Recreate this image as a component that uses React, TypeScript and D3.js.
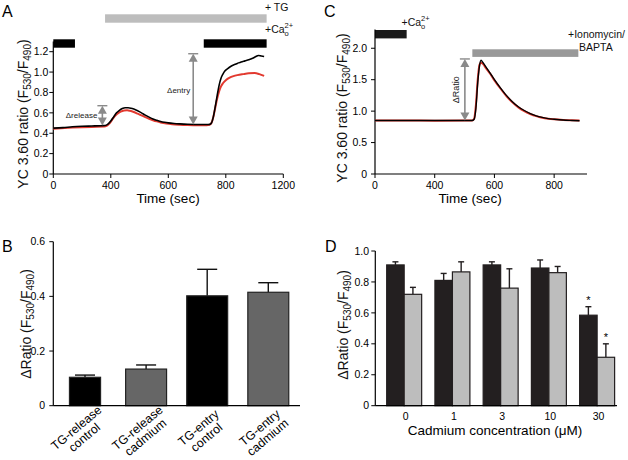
import React from 'react';
import * as d3 from 'd3';

const FONT = '"Liberation Sans", Arial, Helvetica, sans-serif';

// ---------------- Panel A data ----------------
const aTimeBlack = [0, 50, 100, 150, 200, 250, 270, 285, 300, 315, 330, 345, 360, 375, 390, 405, 420, 440, 460, 480, 500, 520, 540, 560, 580, 600, 630, 660, 700, 750, 800, 815, 825, 835, 845, 855, 865, 875, 885, 895, 910, 925, 940, 960, 980, 1000, 1020, 1040, 1055, 1070, 1085, 1100];
const aBlack = [0.45, 0.455, 0.463, 0.468, 0.471, 0.474, 0.476, 0.49, 0.52, 0.56, 0.6, 0.625, 0.642, 0.65, 0.65, 0.646, 0.637, 0.62, 0.6, 0.578, 0.558, 0.54, 0.527, 0.516, 0.508, 0.502, 0.496, 0.492, 0.488, 0.486, 0.485, 0.487, 0.5, 0.56, 0.66, 0.77, 0.87, 0.94, 0.98, 1.01, 1.035, 1.055, 1.07, 1.085, 1.1, 1.11, 1.12, 1.135, 1.15, 1.163, 1.158, 1.153];
const aTimeRed = [0, 100, 200, 265, 280, 295, 310, 325, 340, 355, 370, 385, 400, 420, 440, 460, 480, 500, 520, 540, 560, 590, 620, 660, 700, 750, 800, 815, 825, 835, 845, 855, 865, 875, 885, 900, 920, 940, 960, 990, 1020, 1050, 1075, 1100];
const aRed = [0.445, 0.455, 0.462, 0.465, 0.475, 0.5, 0.54, 0.575, 0.6, 0.615, 0.624, 0.625, 0.62, 0.608, 0.592, 0.575, 0.558, 0.542, 0.528, 0.516, 0.506, 0.495, 0.488, 0.483, 0.48, 0.478, 0.478, 0.482, 0.5, 0.56, 0.65, 0.74, 0.81, 0.86, 0.89, 0.92, 0.945, 0.96, 0.97, 0.98, 0.988, 0.99, 0.98, 0.962];
const aXTickValues = [0, 300, 600, 900, 1200];
const aXTickLabels = ['0', '400', '600', '800', '1200'];
const aYTickValues = [0, 0.2, 0.4, 0.6, 0.8, 1.0, 1.2];
const aYTickLabels = ['0', '0.2', '0.4', '0.6', '0.8', '1.0', '1.2'];
const aCaBars = [[0, 113], [785, 1113]];
const aTgBar = [270, 1113];
const aReleaseArrow = { t: 256, from: 0.475, to: 0.67, label: 'Δrelease' };
const aEntryArrow = { t: 730, from: 0.485, to: 1.18, label: 'Δentry' };

// ---------------- Panel C data ----------------
const cTime = [0, 100, 200, 300, 325, 332, 338, 344, 350, 355, 362, 372, 385, 400, 420, 440, 460, 480, 500, 520, 540, 560, 580, 600, 630, 660, 685];
const cBlack = [0.85, 0.85, 0.85, 0.85, 0.85, 0.87, 1.05, 1.45, 1.72, 1.81, 1.77, 1.7, 1.61, 1.5, 1.37, 1.25, 1.15, 1.07, 1.01, 0.96, 0.925, 0.9, 0.88, 0.87, 0.858, 0.852, 0.848];
const cRed = [0.85, 0.852, 0.848, 0.85, 0.852, 0.88, 1.1, 1.5, 1.74, 1.77, 1.75, 1.68, 1.6, 1.49, 1.36, 1.24, 1.14, 1.06, 1.0, 0.955, 0.92, 0.895, 0.88, 0.87, 0.86, 0.855, 0.85];
const cXTickValues = [0, 200, 400, 600];
const cXTickLabels = ['0', '400', '600', '800'];
const cYTickValues = [0, 0.5, 1.0, 1.5, 2.0];
const cYTickLabels = ['0', '0.5', '1.0', '1.5', '2.0'];
const cCaBar = [0, 106];
const cIonoBar = [326, 681];
const cRatioArrow = { t: 301, from: 0.85, to: 1.83, label: 'ΔRatio' };

// ---------------- Panel B data ----------------
const bCategories = ['TG-release control', 'TG-release cadmium', 'TG-entry control', 'TG-entry cadmium'];
const bLabelLines = [['TG-release', 'control'], ['TG-release', 'cadmium'], ['TG-entry', 'control'], ['TG-entry', 'cadmium']];
const bValues = [0.104, 0.134, 0.402, 0.415];
const bErrors = [0.008, 0.015, 0.097, 0.035];
const bYTickValues = [0, 0.2, 0.4, 0.6];
const bYTickLabels = ['0', '0.2', '0.4', '0.6'];

// ---------------- Panel D data ----------------
const dConcentrations = ['0', '1', '3', '10', '30'];
const dSeries = ['black', 'gray'];
const dBlack = [0.91, 0.81, 0.91, 0.89, 0.585];
const dBlackErr = [0.02, 0.045, 0.02, 0.052, 0.055];
const dGray = [0.72, 0.865, 0.76, 0.86, 0.313];
const dGrayErr = [0.045, 0.065, 0.125, 0.04, 0.087];
const dBlackSig = [false, false, false, false, true];
const dGraySig = [false, false, false, false, true];
const dYTickValues = [0, 0.2, 0.4, 0.6, 0.8, 1.0];
const dYTickLabels = ['0', '0.2', '0.4', '0.6', '0.8', '1.0'];

// ---------------- styles ----------------
const bBarColors = ['#000000', '#666666', '#000000', '#666666'];
const bBarWidthFrac = [0.76, 1, 1, 1];
const dColors: Record<string, string> = { black: '#231f20', gray: '#bdbdbd' };
const ARROW = '#8a8a8a';

function VArrow({ x, y1, y2 }: { x: number; y1: number; y2: number }) {
  const hw = 4.5, hl = 8;
  return (
    <g>
      <line x1={x} x2={x} y1={y1 + hl - 1} y2={y2 - hl + 1} stroke={ARROW} strokeWidth={1.6} />
      <polygon points={`${x},${y1} ${x - hw},${y1 + hl} ${x + hw},${y1 + hl}`} fill={ARROW} />
      <polygon points={`${x},${y2} ${x - hw},${y2 - hl} ${x + hw},${y2 - hl}`} fill={ARROW} />
      <line x1={x - 5} x2={x + 5} y1={y1} y2={y1} stroke={ARROW} strokeWidth={1.4} />
    </g>
  );
}

function CaLabel({ x, y }: { x: number; y: number }) {
  return (
    <text x={x} y={y} fontSize={10.5} fontFamily={FONT} fill="#111">
      +Ca<tspan fontSize={7.5} dy={3}>o</tspan>
      <tspan fontSize={7.5} dx={-4.2} dy={-8}>2+</tspan>
    </text>
  );
}

function YLabel({ x, y, prefix }: { x: number; y: number; prefix: string }) {
  return (
    <text transform={`translate(${x},${y}) rotate(-90)`} textAnchor="middle" fontSize={14} fontFamily={FONT} fill="#111">
      {prefix}(F<tspan fontSize={10} dy={3}>530</tspan>
      <tspan dy={-3}>/F</tspan>
      <tspan fontSize={10} dy={3}>490</tspan>
      <tspan dy={-3}>)</tspan>
    </text>
  );
}

function PanelA() {
  const x = d3.scaleLinear().domain([0, 1200]).range([53.3, 283.3]);
  const y = d3.scaleLinear().domain([0, 1.3]).range([174, 41.5]);
  const line = d3.line<[number, number]>().x(d => x(d[0])).y(d => y(d[1])).curve(d3.curveMonotoneX);
  const blackPts = aTimeBlack.map((t, i) => [t, aBlack[i]] as [number, number]);
  const redPts = aTimeRed.map((t, i) => [t, aRed[i]] as [number, number]);
  return (
    <g>
      <text x={2} y={17} fontSize={16} fontFamily={FONT}>A</text>
      <rect x={x(aTgBar[0])} y={14.3} width={x(aTgBar[1]) - x(aTgBar[0])} height={8.4} fill="#bdbdbd" />
      <text x={265} y={10.5} fontSize={10.5} fontFamily={FONT} fill="#111">+ TG</text>
      <CaLabel x={265} y={33} />
      {aCaBars.map((b, i) => (
        <rect key={i} x={x(b[0])} y={39.3} width={x(b[1]) - x(b[0])} height={8.4} fill="#000" />
      ))}
      <line x1={x(0)} x2={x(0)} y1={y(1.3)} y2={y(0)} stroke="#000" strokeWidth={1.2} />
      <line x1={x(0)} x2={x(1200)} y1={y(0)} y2={y(0)} stroke="#000" strokeWidth={1.2} />
      {aYTickValues.map((v, i) => (
        <g key={i}>
          <line x1={x(0) - 4} x2={x(0)} y1={y(v)} y2={y(v)} stroke="#000" strokeWidth={1} />
          <text x={x(0) - 5} y={y(v)} dy="0.35em" textAnchor="end" fontSize={10.5} fontFamily={FONT}>{aYTickLabels[i]}</text>
        </g>
      ))}
      {aXTickValues.map((v, i) => (
        <g key={i}>
          <line x1={x(v)} x2={x(v)} y1={y(0)} y2={y(0) + 4} stroke="#000" strokeWidth={1} />
          <text x={x(v)} y={189} textAnchor="middle" fontSize={10.5} fontFamily={FONT}>{aXTickLabels[i]}</text>
        </g>
      ))}
      <text x={168} y={203} textAnchor="middle" fontSize={13.5} fontFamily={FONT}>Time (sec)</text>
      <YLabel x={28} y={114} prefix="YC 3.60 ratio " />
      <path d={line(redPts) || ''} fill="none" stroke="#e2392f" strokeWidth={2} />
      <path d={line(blackPts) || ''} fill="none" stroke="#000" strokeWidth={1.6} />
      <VArrow x={x(aReleaseArrow.t)} y1={y(aReleaseArrow.to)} y2={y(aReleaseArrow.from)} />
      <text x={x(aReleaseArrow.t) - 5} y={(y(aReleaseArrow.to) + y(aReleaseArrow.from)) / 2} dy="0.35em" textAnchor="end" fontSize={8} fontFamily={FONT} fill="#222">{aReleaseArrow.label}</text>
      <VArrow x={x(aEntryArrow.t)} y1={y(aEntryArrow.to)} y2={y(aEntryArrow.from)} />
      <text x={x(aEntryArrow.t) - 3} y={90} dy="0.35em" textAnchor="end" fontSize={8} fontFamily={FONT} fill="#222">{aEntryArrow.label}</text>
    </g>
  );
}

function PanelC() {
  const x = d3.scaleLinear().domain([0, 710]).range([375, 587]);
  const y = d3.scaleLinear().domain([0, 2.3]).range([174, 29.4]);
  const line = d3.line<[number, number]>().x(d => x(d[0])).y(d => y(d[1])).curve(d3.curveMonotoneX);
  const blackPts = cTime.map((t, i) => [t, cBlack[i]] as [number, number]);
  const redPts = cTime.map((t, i) => [t, cRed[i]] as [number, number]);
  return (
    <g>
      <text x={324} y={17} fontSize={16} fontFamily={FONT}>C</text>
      <rect x={x(cCaBar[0])} y={30} width={x(cCaBar[1]) - x(cCaBar[0])} height={8.4} fill="#1a1a1a" />
      <CaLabel x={401.5} y={26} />
      <rect x={x(cIonoBar[0])} y={49.3} width={x(cIonoBar[1]) - x(cIonoBar[0])} height={7.6} fill="#999" />
      <text x={568} y={38} fontSize={10.5} fontFamily={FONT} fill="#111">+Ionomycin/</text>
      <text x={579} y={50.5} fontSize={10.5} fontFamily={FONT} fill="#111">BAPTA</text>
      <line x1={x(0)} x2={x(0)} y1={y(2.3)} y2={y(0)} stroke="#000" strokeWidth={1.2} />
      <line x1={x(0)} x2={x(710)} y1={y(0)} y2={y(0)} stroke="#000" strokeWidth={1.2} />
      {cYTickValues.map((v, i) => (
        <g key={i}>
          <line x1={x(0) - 4} x2={x(0)} y1={y(v)} y2={y(v)} stroke="#000" strokeWidth={1} />
          <text x={x(0) - 8} y={y(v)} dy="0.35em" textAnchor="end" fontSize={10.5} fontFamily={FONT}>{cYTickLabels[i]}</text>
        </g>
      ))}
      {cXTickValues.map((v, i) => (
        <g key={i}>
          <line x1={x(v)} x2={x(v)} y1={y(0)} y2={y(0) + 4} stroke="#000" strokeWidth={1} />
          <text x={x(v)} y={189} textAnchor="middle" fontSize={10.5} fontFamily={FONT}>{cXTickLabels[i]}</text>
        </g>
      ))}
      <text x={470} y={203} textAnchor="middle" fontSize={13.5} fontFamily={FONT}>Time (sec)</text>
      <YLabel x={347} y={108} prefix="YC 3.60 ratio " />
      <path d={line(redPts) || ''} fill="none" stroke="#e2392f" strokeWidth={2} />
      <path d={line(blackPts) || ''} fill="none" stroke="#000" strokeWidth={1.4} />
      <VArrow x={x(cRatioArrow.t)} y1={y(cRatioArrow.to)} y2={y(cRatioArrow.from)} />
      <text transform={`translate(${x(cRatioArrow.t) - 6},${(y(cRatioArrow.to) + y(cRatioArrow.from)) / 2}) rotate(-90)`} textAnchor="middle" fontSize={9} fontFamily={FONT} fill="#222">{cRatioArrow.label}</text>
    </g>
  );
}

function PanelB() {
  const x = d3.scaleBand<string>().domain(bCategories).range([53.3, 300]).paddingInner(0.33).paddingOuter(0.184);
  const y = d3.scaleLinear().domain([0, 0.6]).range([405.7, 241.7]);
  const bw = x.bandwidth();
  return (
    <g>
      <text x={2} y={252} fontSize={16} fontFamily={FONT}>B</text>
      {bCategories.map((c, i) => {
        const cx = (x(c) as number) + bw / 2;
        const w = bw * bBarWidthFrac[i];
        const top = y(bValues[i]);
        const et = y(bValues[i] + bErrors[i]);
        return (
          <g key={c}>
            <line x1={cx} x2={cx} y1={top} y2={et} stroke="#111" strokeWidth={1.4} />
            <line x1={cx - 10} x2={cx + 10} y1={et} y2={et} stroke="#111" strokeWidth={1.4} />
            <rect x={cx - w / 2} y={top} width={w} height={y(0) - top} fill={bBarColors[i]} stroke="#222" strokeWidth={1.2} />
            <g transform={`translate(${cx - 6},431) rotate(-40)`}>
              {bLabelLines[i].map((s, j) => (
                <text key={j} x={0} y={j * 12.5} textAnchor="middle" fontSize={12.3} fontFamily={FONT}>{s}</text>
              ))}
            </g>
          </g>
        );
      })}
      <line x1={53.3} x2={53.3} y1={y(0.6)} y2={y(0)} stroke="#000" strokeWidth={1.2} />
      <line x1={53.3} x2={300} y1={y(0)} y2={y(0)} stroke="#000" strokeWidth={1.2} />
      {bYTickValues.map((v, i) => (
        <g key={i}>
          <line x1={49.3} x2={53.3} y1={y(v)} y2={y(v)} stroke="#000" strokeWidth={1} />
          <text x={45} y={y(v)} dy="0.35em" textAnchor="end" fontSize={10.5} fontFamily={FONT}>{bYTickLabels[i]}</text>
        </g>
      ))}
      <YLabel x={31} y={324} prefix="ΔRatio " />
    </g>
  );
}

function PanelD() {
  const x0 = d3.scaleBand<string>().domain(dConcentrations).range([375.3, 626]).paddingInner(0.275).paddingOuter(0.236);
  const x1 = d3.scaleBand<string>().domain(dSeries).range([0, x0.bandwidth()]).padding(0);
  const y = d3.scaleLinear().domain([0, 1]).range([405.7, 251]);
  const vals: Record<string, number[]> = { black: dBlack, gray: dGray };
  const errs: Record<string, number[]> = { black: dBlackErr, gray: dGrayErr };
  const sigs: Record<string, boolean[]> = { black: dBlackSig, gray: dGraySig };
  return (
    <g>
      <text x={325} y={252} fontSize={16} fontFamily={FONT}>D</text>
      {dConcentrations.map((c, i) => (
        <g key={c}>
          {dSeries.map(s => {
            const bx = (x0(c) as number) + (x1(s) as number);
            const w = x1.bandwidth();
            const cx = bx + w / 2;
            const top = y(vals[s][i]);
            const et = y(vals[s][i] + errs[s][i]);
            return (
              <g key={s}>
                <line x1={cx} x2={cx} y1={top} y2={et} stroke="#231f20" strokeWidth={1.4} />
                <line x1={cx - 3} x2={cx + 3} y1={et} y2={et} stroke="#231f20" strokeWidth={1.4} />
                <rect x={bx} y={top} width={w} height={y(0) - top} fill={dColors[s]} stroke="#231f20" strokeWidth={1.2} />
                {sigs[s][i] && (
                  <text x={cx} y={et - 3} textAnchor="middle" fontSize={11} fontFamily={FONT}>*</text>
                )}
              </g>
            );
          })}
          <text x={(x0(c) as number) + x0.bandwidth() / 2 + 1.5} y={419.5} textAnchor="middle" fontSize={10.5} fontFamily={FONT}>{c}</text>
        </g>
      ))}
      <line x1={375.3} x2={375.3} y1={y(1)} y2={y(0)} stroke="#000" strokeWidth={1.2} />
      <line x1={375.3} x2={617} y1={y(0)} y2={y(0)} stroke="#000" strokeWidth={1.2} />
      {dYTickValues.map((v, i) => (
        <g key={i}>
          <line x1={371.3} x2={375.3} y1={y(v)} y2={y(v)} stroke="#000" strokeWidth={1} />
          <text x={369} y={y(v)} dy="0.35em" textAnchor="end" fontSize={10.5} fontFamily={FONT}>{dYTickLabels[i]}</text>
        </g>
      ))}
      <text x={495} y={435} textAnchor="middle" fontSize={13.5} fontFamily={FONT}>Cadmium concentration (μM)</text>
      <YLabel x={348} y={325} prefix="ΔRatio " />
    </g>
  );
}

export default function App() {
  return (
    <svg width={628} height={460} viewBox="0 0 628 460" style={{ position: 'absolute', left: 0, top: 0, background: '#fff' }}>
      <rect width={628} height={460} fill="#fff" />
      <PanelA />
      <PanelC />
      <PanelB />
      <PanelD />
    </svg>
  );
}
